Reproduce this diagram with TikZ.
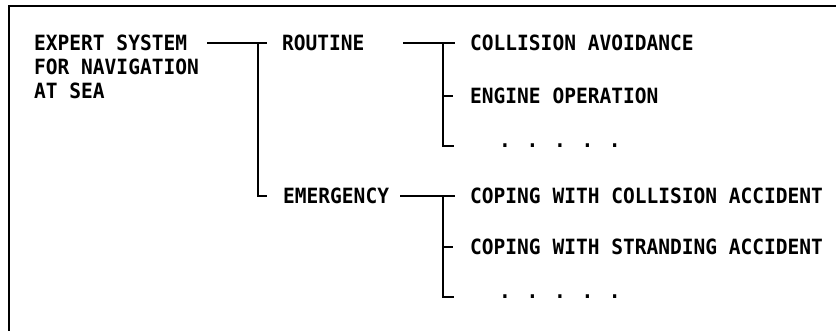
\documentclass[tikz,border=0pt]{standalone}
\usepackage{fontspec}
\newfontfamily\monofam{DejaVu Sans Mono Bold}[FakeStretch=0.93]
\begin{document}
\begin{tikzpicture}[x=1pt,y=-1pt,
  txt/.style={inner sep=0pt, anchor=west, text depth=0pt,
    font=\monofam\fontsize{21}{23.5}\selectfont},
  conn/.style={line width=1.8pt, line cap=rect},
  frame/.style={line width=2pt}]
\useasboundingbox (0,0) rectangle (836,331);
% frame (only top and left edges visible)
\draw[frame] (9,331) -- (9,6) -- (836,6);
% left block
\node[txt] (exp) at (34,43) {EXPERT SYSTEM};
\node[txt] (nav) at (34,67) {FOR NAVIGATION};
\node[txt] (sea) at (34,91) {AT SEA};
% level 1
\node[txt] (rout) at (282,43) {ROUTINE};
\node[txt] (emer) at (283,196) {EMERGENCY};
% level 2
\node[txt] (coll) at (470,43) {COLLISION AVOIDANCE};
\node[txt] (eng) at (470,96) {ENGINE OPERATION};
\node[txt] (dots1) at (499,146) {. . . . .};
\node[txt] (ccoll) at (470,196) {COPING WITH COLLISION ACCIDENT};
\node[txt] (cstr) at (470,247) {COPING WITH STRANDING ACCIDENT};
\node[txt] (dots2) at (499,297) {. . . . .};
% junction coordinates
\coordinate (a0) at (208,43);
\coordinate (a1) at (258,43);
\coordinate (a2) at (258,196);
\coordinate (b0) at (404,43);
\coordinate (b1) at (443,43);
\coordinate (b2) at (443,146);
\coordinate (c0) at (401,196);
\coordinate (c1) at (443,196);
\coordinate (c2) at (443,297);
% connectors
\draw[conn] (a0) -- ([xshift=-16pt]rout.west);
\draw[conn] (a1) -- (a2) -- ([xshift=-17pt]emer.west |- a2);
\draw[conn] (b0) -- ([xshift=-16pt]coll.west);
\draw[conn] (b1) -- (b2) -- ([xshift=-17pt]coll.west |- b2);
\draw[conn] (b1 |- eng) -- ([xshift=-18pt]eng.west);
\draw[conn] (c0) -- ([xshift=-16pt]ccoll.west);
\draw[conn] (c1) -- (c2) -- ([xshift=-17pt]ccoll.west |- c2);
\draw[conn] (c1 |- cstr) -- ([xshift=-18pt]cstr.west);
\end{tikzpicture}
\end{document}
